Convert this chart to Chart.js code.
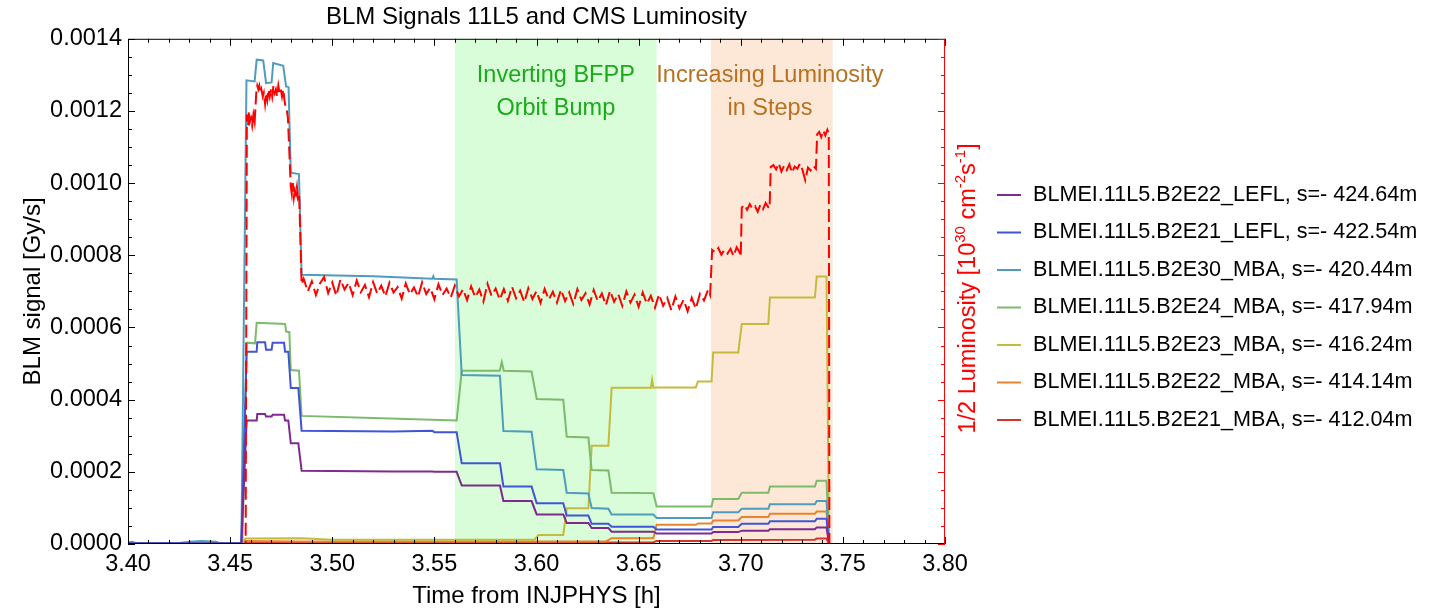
<!DOCTYPE html>
<html>
<head>
<meta charset="utf-8">
<script src="https://cdn.jsdelivr.net/npm/chart.js@4.4.0/dist/chart.umd.min.js"></script>
<style>
  html, body { margin: 0; padding: 0; background: #ffffff; }
  #wrap { width: 1443px; height: 613px; }
</style>
</head>
<body>
<div id="wrap"><canvas id="c" width="1443" height="613"></canvas></div>
<script>
// ---------------- DATA ----------------
const chartTitle = 'BLM Signals 11L5 and CMS Luminosity';
const xTitle = 'Time from INJPHYS [h]';
const yTitle = 'BLM signal [Gy/s]';

const seriesLabels = [
  'BLMEI.11L5.B2E22_LEFL, s=- 424.64m',
  'BLMEI.11L5.B2E21_LEFL, s=- 422.54m',
  'BLMEI.11L5.B2E30_MBA, s=- 420.44m',
  'BLMEI.11L5.B2E24_MBA, s=- 417.94m',
  'BLMEI.11L5.B2E23_MBA, s=- 416.24m',
  'BLMEI.11L5.B2E22_MBA, s=- 414.14m',
  'BLMEI.11L5.B2E21_MBA, s=- 412.04m'
];

// time axis [h] for the two LEFL monitors
const timeLefl = [3.400,3.4555,3.4581,3.4630,3.4633,3.4671,3.4676,3.4703,3.4708,3.4764,3.4769,3.4785,3.4797,3.4834,3.4850,3.5300,3.5490,3.5500,3.5609,3.5634,3.5821,3.5838,3.5976,3.6001,3.6131,3.6148,3.6254,3.6270,3.6352,3.6368,3.6572,3.6588,3.6857,3.6865,3.6988,3.7005,3.7135,3.7143,3.7363,3.7372,3.7420,3.7432,3.800];
const valE22Lefl = [0.000001,0.000001,0.000342,0.000342,0.000360,0.000360,0.000353,0.000353,0.000358,0.000358,0.000342,0.000342,0.000279,0.000279,0.000203,0.000201,0.000201,0.000200,0.000200,0.000162,0.000162,0.000119,0.000119,0.000082,0.000082,0.000058,0.000058,0.000044,0.000044,0.000034,0.000034,0.000029,0.000029,0.000033,0.000033,0.000037,0.000037,0.000041,0.000041,0.000046,0.000046,0,0];
const valE21Lefl = [0.000002,0.000002,0.000533,0.000533,0.000559,0.000559,0.000538,0.000538,0.000558,0.000558,0.000533,0.000533,0.000432,0.000432,0.000314,0.000312,0.000314,0.000310,0.000310,0.000224,0.000224,0.000159,0.000159,0.000113,0.000113,0.000079,0.000079,0.000056,0.000056,0.000048,0.000048,0.000040,0.000040,0.000047,0.000047,0.000056,0.000056,0.000063,0.000063,0.000070,0.000070,0,0];

const timeE30 = [3.400,3.402,3.404,3.424,3.430,3.436,3.443,3.445,3.4555,3.4580,3.4620,3.4630,3.4662,3.4676,3.4703,3.4711,3.4760,3.4774,3.4786,3.4797,3.4837,3.4850,3.5200,3.5490,3.5495,3.5500,3.5609,3.5634,3.5821,3.5838,3.5976,3.6001,3.6131,3.6148,3.6254,3.6270,3.6352,3.6368,3.6572,3.6588,3.6857,3.6865,3.6988,3.7005,3.7135,3.7143,3.7363,3.7372,3.7420,3.7432,3.800];
const valE30 = [0.000004,0.000006,0.000002,0.000002,0.000006,0.000008,0.000006,0.000002,0.000002,0.001285,0.001282,0.001342,0.001340,0.001277,0.001279,0.001333,0.001325,0.001268,0.001266,0.001029,0.001025,0.000746,0.000742,0.000735,0.000742,0.000735,0.000733,0.000468,0.000466,0.000313,0.000311,0.000207,0.000205,0.000142,0.000140,0.000100,0.000098,0.000082,0.000082,0.000072,0.000072,0.000088,0.000088,0.000098,0.000098,0.000110,0.000110,0.000119,0.000119,0,0];

const timeE24 = [3.400,3.4560,3.4581,3.4622,3.4630,3.4769,3.4774,3.4790,3.4797,3.4837,3.4850,3.5200,3.5609,3.5634,3.5820,3.5830,3.5840,3.5976,3.6001,3.6131,3.6148,3.6254,3.6270,3.6352,3.6368,3.6572,3.6588,3.6857,3.6865,3.6988,3.7005,3.7135,3.7143,3.7363,3.7372,3.7420,3.7432,3.800];
const valE24 = [0.000002,0.000002,0.000558,0.000556,0.000613,0.000610,0.000589,0.000587,0.000482,0.000480,0.000355,0.000349,0.000342,0.000480,0.000480,0.000504,0.000480,0.000478,0.000402,0.000400,0.000297,0.000295,0.000205,0.000204,0.000142,0.000141,0.000104,0.000104,0.000125,0.000125,0.000142,0.000142,0.000159,0.000159,0.000175,0.000175,0,0];

const timeE23 = [3.400,3.4560,3.4575,3.4850,3.5000,3.5990,3.6010,3.6131,3.6148,3.6254,3.6270,3.6352,3.6368,3.6560,3.6566,3.6572,3.6588,3.6780,3.6790,3.6857,3.6865,3.6988,3.7005,3.7135,3.7143,3.7363,3.7372,3.7420,3.7432,3.800];
const valE23 = [0.000002,0.000002,0.000015,0.000016,0.000012,0.000012,0.000025,0.000025,0.000099,0.000099,0.000272,0.000272,0.000433,0.000433,0.000455,0.000433,0.000434,0.000434,0.000450,0.000450,0.000531,0.000531,0.000610,0.000610,0.000683,0.000683,0.000741,0.000741,0,0];

const timeE22Mba = [3.400,3.4560,3.4575,3.4850,3.6340,3.6368,3.6572,3.6588,3.6780,3.6790,3.6857,3.6865,3.6988,3.7005,3.7135,3.7143,3.7363,3.7372,3.7420,3.7432,3.800];
const valE22Mba = [0.000002,0.000002,0.000008,0.000007,0.000007,0.000016,0.000016,0.000053,0.000053,0.000057,0.000057,0.000065,0.000065,0.000075,0.000075,0.000084,0.000084,0.000090,0.000090,0,0];

const timeE21Mba = [3.400,3.4560,3.4575,3.6572,3.6588,3.6857,3.6865,3.7363,3.7372,3.7420,3.7432,3.800];
const valE21Mba = [0.000001,0.000001,0.000004,0.000005,0.000008,0.000008,0.000011,0.000012,0.000015,0.000015,0,0];

// CMS luminosity (1/2), right axis [10^30 cm^-2 s^-1]
const lumiTime = [3.400,3.4576,3.4582,3.4588,3.4592,3.4597,3.4603,3.4608,3.4614,3.4620,3.4628,3.4633,3.4638,3.4643,3.4648,3.4653,3.4660,3.4665,3.4671,3.4676,3.4682,3.4688,3.4694,3.4700,3.4706,3.4712,3.4718,3.4724,3.4730,3.4736,3.4742,3.4748,3.4754,3.4760,3.4766,3.4772,3.4778,3.4783,3.4797,3.4802,3.4807,3.4812,3.4817,3.4822,3.4827,3.4832,3.4838,3.4850,
3.486,3.488,3.490,3.492,3.494,3.496,3.498,3.500,3.502,3.504,3.506,3.508,3.510,3.512,3.514,3.516,3.518,3.520,3.522,3.524,3.526,3.528,3.530,3.532,3.534,3.536,3.538,3.540,3.542,3.544,3.546,3.548,3.550,3.552,3.554,3.556,3.558,3.560,3.562,3.564,3.566,3.568,3.570,3.572,3.574,3.576,3.578,3.580,3.582,3.584,3.586,3.588,3.590,3.592,3.594,3.596,3.598,3.600,3.602,3.604,3.606,3.608,3.610,3.612,3.614,3.616,3.618,3.620,3.622,3.624,3.626,3.628,3.630,3.632,3.634,3.636,3.638,3.640,3.642,3.644,3.646,3.648,3.650,3.652,3.654,3.656,3.658,3.660,3.662,3.664,3.666,3.668,3.670,3.672,3.674,3.676,3.678,3.680,3.682,3.684,3.685,
3.6860,3.6875,3.6890,3.6905,3.6920,3.6935,3.6950,3.6965,3.6980,3.6993,3.7000,
3.7005,3.7018,3.7031,3.7044,3.7057,3.7070,3.7083,3.7096,3.7109,3.7122,3.7135,3.7141,
3.7147,3.7160,3.7173,3.7186,3.7199,3.7212,3.7225,3.7238,3.7251,3.7264,3.7277,3.7290,3.7303,3.7316,3.7329,3.7342,3.7355,3.7368,
3.7374,3.7384,3.7394,3.7404,3.7414,3.7424,3.7431,3.7434,3.800];
const lumiValue = [0,0,0.001190,0.001160,0.001200,0.001170,0.001180,0.001160,0.001190,0.001170,0.001250,0.001270,0.001260,0.001270,0.001250,0.001260,0.001240,0.001250,0.001220,0.001250,0.001230,0.001260,0.001240,0.001260,0.001240,0.001270,0.001250,0.001260,0.001240,0.001270,0.001250,0.001260,0.001240,0.001260,0.001230,0.001210,0.001200,0.001180,0.000990,0.000970,0.001000,0.000960,0.000980,0.000970,0.000990,0.000960,0.000970,0.000720,
0.000735,0.000700,0.000728,0.000690,0.000722,0.000740,0.000695,0.000725,0.000688,0.000733,0.000705,0.000724,0.000690,0.000730,0.000698,0.000718,0.000684,0.000726,0.000694,0.000716,0.000686,0.000724,0.000697,0.000712,0.000680,0.000722,0.000692,0.000711,0.000685,0.000725,0.000693,0.000710,0.000678,0.000720,0.000690,0.000708,0.000683,0.000716,0.000686,0.000706,0.000676,0.000714,0.000684,0.000705,0.000672,0.000721,0.000688,0.000708,0.000677,0.000706,0.000674,0.000713,0.000681,0.000702,0.000670,0.000709,0.000679,0.000701,0.000668,0.000707,0.000677,0.000699,0.000669,0.000705,0.000673,0.000697,0.000665,0.000706,0.000676,0.000695,0.000664,0.000704,0.000673,0.000694,0.000662,0.000702,0.000671,0.000693,0.000660,0.000700,0.000669,0.000691,0.000657,0.000697,0.000666,0.000688,0.000655,0.000692,0.000660,0.000682,0.000648,0.000686,0.000653,0.000677,0.000645,0.000682,0.000652,0.000693,0.000675,0.000704,0.000690,
0.000815,0.000808,0.000820,0.000802,0.000815,0.000805,0.000818,0.000798,0.000822,0.000810,0.000796,
0.000932,0.000940,0.000926,0.000942,0.000929,0.000936,0.000921,0.000940,0.000928,0.000945,0.000933,0.000930,
0.001045,0.001050,0.001038,0.001055,0.001032,0.001048,0.001036,0.001052,0.001029,0.001046,0.001040,0.001054,0.001035,0.001008,0.001043,0.001035,0.001048,0.001040,
0.001135,0.001142,0.001128,0.001146,0.001132,0.001148,0.001138,0,0];

const seriesColors = ['#7e2a8f','#4055d6','#4f9cbd','#7cba6c','#c4bb3e','#e5852f','#d8342f'];
const lumiColor = '#ff0000';

// shaded periods [h]
const bandBump = [3.5601, 3.6588];
const bandLumi = [3.6854, 3.7450];
const noteBump = ['Inverting BFPP', 'Orbit Bump'];
const noteLumi = ['Increasing Luminosity', 'in Steps'];

// ---------------- CHART ----------------
const FONT = '"Liberation Sans", Arial, Helvetica, sans-serif';
const pts = (t, v) => t.map((x, i) => ({x: x, y: v[i]}));

const blm = [
  [timeLefl, valE22Lefl], [timeLefl, valE21Lefl], [timeE30, valE30], [timeE24, valE24],
  [timeE23, valE23], [timeE22Mba, valE22Mba], [timeE21Mba, valE21Mba]
];

const datasets = [{
  label: '1/2 Luminosity',
  data: pts(lumiTime, lumiValue),
  yAxisID: 'y2',
  borderColor: lumiColor, backgroundColor: lumiColor,
  borderWidth: 2, borderDash: [13, 5], pointRadius: 0, tension: 0
}];
blm.forEach((s, i) => datasets.push({
  label: seriesLabels[i],
  data: pts(s[0], s[1]),
  yAxisID: 'y',
  borderColor: seriesColors[i], backgroundColor: seriesColors[i],
  borderWidth: 2, pointRadius: 0, tension: 0
}));

const decor = {
  id: 'decor',
  beforeDraw(chart) {
    const ctx = chart.ctx;
    ctx.save(); ctx.fillStyle = '#ffffff'; ctx.fillRect(0, 0, chart.width, chart.height); ctx.restore();
  },
  beforeDatasetsDraw(chart) {
    const {ctx, chartArea: a, scales: {x}} = chart;
    ctx.save();
    [[bandBump, 'rgb(217,252,217)'], [bandLumi, 'rgb(253,232,216)']].forEach(([b, c]) => {
      const x0 = x.getPixelForValue(b[0]), x1 = x.getPixelForValue(b[1]);
      ctx.fillStyle = c;
      ctx.fillRect(x0, a.top, x1 - x0, a.bottom - a.top);
    });
    ctx.restore();
  },
  afterDatasetsDraw(chart) {
    const {ctx, chartArea: a, scales: {x, y}} = chart;
    ctx.save();
    // annotations
    ctx.font = '23.5px ' + FONT;
    ctx.textAlign = 'center'; ctx.textBaseline = 'middle';
    const cB = x.getPixelForValue((bandBump[0] + bandBump[1]) / 2);
    const cL = x.getPixelForValue(3.7143);
    ctx.fillStyle = '#1aaa1a';
    ctx.fillText(noteBump[0], cB, 76); ctx.fillText(noteBump[1], cB, 109);
    ctx.fillStyle = '#b8711e';
    ctx.fillText(noteLumi[0], cL, 76); ctx.fillText(noteLumi[1], cL, 109);

    // frame
    ctx.lineWidth = 1;
    ctx.strokeStyle = '#000';
    ctx.beginPath();
    ctx.moveTo(a.right, a.top + 0.5); ctx.lineTo(a.left + 0.5, a.top + 0.5);
    ctx.lineTo(a.left + 0.5, a.bottom - 0.5); ctx.lineTo(a.right, a.bottom - 0.5);
    ctx.stroke();
    for (let i = 0; i <= 40; i++) {
      const px = Math.round(x.getPixelForValue(3.4 + i * 0.01)) + 0.5;
      const L = (i % 5 === 0) ? 7 : 4;
      ctx.beginPath();
      ctx.moveTo(px, a.bottom); ctx.lineTo(px, a.bottom - L);
      ctx.moveTo(px, a.top); ctx.lineTo(px, a.top + L);
      ctx.stroke();
    }
    for (let i = 0; i <= 28; i++) {
      const py = Math.round(y.getPixelForValue(i * 0.00005)) + 0.5;
      const L = (i % 4 === 0) ? 7 : 4;
      ctx.beginPath(); ctx.moveTo(a.left, py); ctx.lineTo(a.left + L, py); ctx.stroke();
    }
    ctx.strokeStyle = '#ff0000';
    ctx.beginPath(); ctx.moveTo(a.right - 0.5, a.top); ctx.lineTo(a.right - 0.5, a.bottom); ctx.stroke();
    for (let i = 0; i <= 28; i++) {
      const py = Math.round(y.getPixelForValue(i * 0.00005)) + 0.5;
      const L = (i % 4 === 0) ? 7 : 4;
      ctx.beginPath(); ctx.moveTo(a.right, py); ctx.lineTo(a.right - L, py); ctx.stroke();
    }
    ctx.restore();

    // right axis title, rotated
    ctx.save();
    const parts = [['1/2 Luminosity [10', 0], ['30', 1], [' cm', 0], ['-2', 1], ['s', 0], ['-1', 1], [']', 0]];
    const nf = '23.5px ' + FONT, sf = '15px ' + FONT;
    let total = 0;
    parts.forEach(p => { ctx.font = p[1] ? sf : nf; total += ctx.measureText(p[0]).width; });
    ctx.translate(969, (a.top + a.bottom) / 2 - 3);
    ctx.rotate(-Math.PI / 2);
    ctx.fillStyle = '#ff0000';
    ctx.textAlign = 'left'; ctx.textBaseline = 'middle';
    let cx = -total / 2;
    parts.forEach(p => {
      ctx.font = p[1] ? sf : nf;
      ctx.fillText(p[0], cx, p[1] ? -8 : 0);
      cx += ctx.measureText(p[0]).width;
    });
    ctx.restore();

    // legend
    ctx.save();
    ctx.font = '21.6px ' + FONT;
    ctx.textAlign = 'left'; ctx.textBaseline = 'middle';
    chart.data.datasets.forEach((ds, i) => {
      if (i === 0) return;
      const ly = 195 + (i - 1) * 37.5;
      ctx.strokeStyle = ds.borderColor; ctx.lineWidth = 2;
      ctx.beginPath(); ctx.moveTo(997, ly); ctx.lineTo(1021, ly); ctx.stroke();
      ctx.fillStyle = '#000';
      ctx.fillText(ds.label, 1033, ly);
    });
    ctx.restore();
  }
};

new Chart(document.getElementById('c'), {
  type: 'line',
  data: {datasets: datasets},
  plugins: [decor],
  options: {
    responsive: false,
    animation: false,
    layout: {padding: {left: 0, right: 0, top: 0, bottom: 0}},
    plugins: {
      title: {display: true, text: chartTitle, fullSize: false, color: '#000',
        font: {family: FONT, size: 24, weight: 'normal'}, padding: {top: 3, bottom: 7}},
      legend: {display: false},
      tooltip: {enabled: false}
    },
    scales: {
      x: {
        type: 'linear', position: 'bottom', min: 3.4, max: 3.8,
        ticks: {stepSize: 0.05, callback: v => v.toFixed(2), color: '#000',
          font: {family: FONT, size: 23.5}, padding: 6, maxRotation: 0, autoSkip: false},
        grid: {display: false, drawTicks: false}, border: {display: false},
        title: {display: true, text: xTitle, color: '#000', font: {family: FONT, size: 24}, padding: {top: 0, bottom: 2}},
        afterFit: s => { s.height = 69; }
      },
      y: {
        position: 'left', min: 0, max: 0.0014,
        ticks: {stepSize: 0.0002, callback: v => v.toFixed(4), color: '#000',
          font: {family: FONT, size: 23.5}, padding: 6},
        grid: {display: false, drawTicks: false}, border: {display: false},
        title: {display: true, text: yTitle, color: '#000', font: {family: FONT, size: 24}, padding: {top: 19, bottom: 0}},
        afterFit: s => { s.width = 128; }
      },
      y2: {
        position: 'right', min: 0, max: 0.0014,
        ticks: {display: false},
        grid: {display: false, drawTicks: false}, border: {display: false},
        afterFit: s => { s.width = 498; }
      }
    }
  }
});
</script>
</body>
</html>
